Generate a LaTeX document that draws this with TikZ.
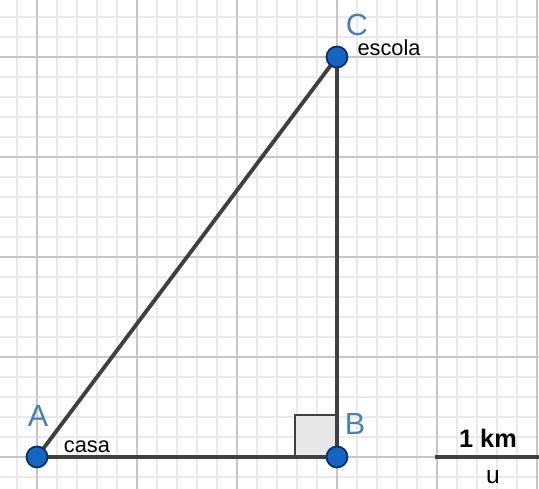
\documentclass[tikz,border=0pt]{standalone}
\usepackage{fontspec}
\setmainfont{Liberation Sans}
\definecolor{gridminor}{RGB}{234,234,234}
\definecolor{gridmajor}{RGB}{198,198,198}
\definecolor{ptblue}{RGB}{21,101,192}
\definecolor{ptedge}{RGB}{10,45,105}
\definecolor{labcol}{RGB}{77,128,175}
\definecolor{segcol}{RGB}{64,64,64}
\begin{document}
\begin{tikzpicture}[x=1cm, y=1cm,
    pt/.style={circle, draw=ptedge, fill=ptblue, line width=0.5pt, minimum size=2.1mm, inner sep=0pt},
    side/.style={draw=segcol, line width=1.1pt},
    ptlabel/.style={text=labcol, inner sep=0pt, font=\fontsize{8.7}{9}\selectfont},
    tag/.style={inner sep=0pt, font=\fontsize{6.2}{7}\selectfont}]
    \useasboundingbox (-0.37,-0.32) rectangle (5.02,4.57);

    % --- GRID ---
    \fill[white] (-0.37,-0.32) rectangle (5.02,4.57);
    \draw[step=0.2, gridminor, line width=0.3pt] (-0.37,-0.32) grid (5.02,4.57);
    \draw[step=1.0, gridmajor, line width=0.45pt] (-0.37,-0.32) grid (5.02,4.57);

    % --- TRIANGLE ---
    \coordinate (A) at (0,0);
    \coordinate (B) at (3,0);
    \coordinate (C) at (3,4);

    % Right angle at B
    \filldraw[fill=gray!18, draw=segcol, line width=0.7pt]
        (2.58,0) rectangle (3,0.42);

    \draw[side] (A) -- (B) -- (C) -- cycle;

    \node[pt] (dotA) at (A) {};
    \node[pt] (dotB) at (B) {};
    \node[pt] (dotC) at (C) {};

    \node[ptlabel] (labA) at (0.01, 0.41) {A};
    \node[ptlabel] (labB) at (3.18, 0.33) {B};
    \node[ptlabel] (labC) at (3.20, 4.32) {C};
    \node[tag] (casa) at (0.50, 0.10) {casa};
    \node[tag] (escola) at (3.52, 4.09) {escola};

    % --- SCALE BAR ---
    \coordinate (u0) at (3.98,0);
    \coordinate (u1) at (5.02,0);
    \draw[draw=segcol, line width=1pt] (u0) -- (u1);
    \node[inner sep=0pt, font=\fontsize{7.2}{8}\selectfont\bfseries] (km) at (4.51, 0.19) {1 km};
    \node[inner sep=0pt, font=\fontsize{7}{8}\selectfont] (unit) at (4.56, -0.20) {u};
\end{tikzpicture}
\end{document}
